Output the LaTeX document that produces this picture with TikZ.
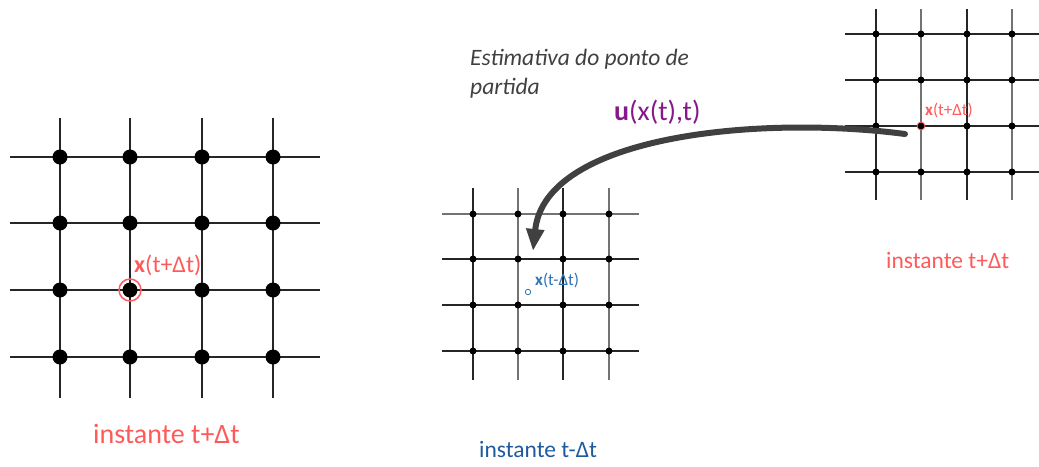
\documentclass[tikz,border=0pt]{standalone}
\usepackage{fontspec}
\setmainfont{Carlito}
\usetikzlibrary{arrows.meta}
\definecolor{lblred}{HTML}{FF5A5A}
\definecolor{lblblue}{HTML}{1F5A9E}
\definecolor{ptblue}{HTML}{2E75B6}
\definecolor{upurple}{HTML}{86198A}
\definecolor{arrgray}{HTML}{404040}
\definecolor{txtgray}{HTML}{404040}
\newcommand{\fsz}[1]{\fontsize{#1}{#1}\selectfont}

\begin{document}
\begin{tikzpicture}[x=1pt, y=-1pt,
    bigdot/.style={circle, fill=black, inner sep=0pt, minimum size=15pt},
    smalldot/.style={circle, fill=black, inner sep=0pt, minimum size=7pt},
    gridline/.style={line width=1.6pt, black!85},
    thinline/.style={line width=1.1pt, black!85},
    greyline/.style={line width=1.2pt, black!55},
    lbl/.style={inner sep=0pt, anchor=base west},
    flow/.style={-{Triangle[length=22pt,width=17pt]}, line width=6pt, arrgray, line cap=round}
]
\useasboundingbox (0,0) rectangle (1039,466);

% left grid (instante t+dt)
\foreach \x in {60,130,202,273} \draw[gridline] (\x,118) -- (\x,398);
\foreach \y in {157,223,290,357} \draw[gridline] (10,\y) -- (320,\y);
\foreach \x [count=\i] in {60,130,202,273}
  \foreach \y [count=\j] in {157,223,290,357}
    \node[bigdot] (L-\i-\j) at (\x,\y) {};
\node[circle, draw=lblred, line width=1.5pt, minimum size=22pt, inner sep=0pt] (Lring) at (L-2-3) {};
\node[lbl, text=lblred, font=\fsz{24}] (Lx) at (134,272) {\textbf{x}(t+Δt)};
\node[lbl, text=lblred, font=\fsz{28}] (Ltime) at (93,443) {instante t+Δt};

% middle grid (instante t-dt)
\foreach \x/\s in {473/thinline,518/greyline,563/thinline,609/greyline} \draw[\s] (\x,188) -- (\x,380);
\foreach \y/\s in {214/greyline,259/thinline,305/thinline,351/thinline} \draw[\s] (442,\y) -- (639,\y);
\foreach \x [count=\i] in {473,518,563,609}
  \foreach \y [count=\j] in {214,259,305,351}
    \node[smalldot] (M-\i-\j) at (\x,\y) {};
\node[circle, draw=ptblue, line width=0.8pt, minimum size=5.5pt, inner sep=0pt] (xdep) at (528,292) {};
\node[lbl, text=ptblue, font=\fsz{17}] (Mx) at (535,285) {\textbf{x}(t-Δt)};
\node[lbl, text=lblblue, font=\fsz{23.5}] (Mtime) at (479,457) {instante t-Δt};

% right grid (instante t+dt)
\foreach \x/\s in {876/thinline,921/greyline,967/thinline,1012/greyline} \draw[\s] (\x,9) -- (\x,200);
\foreach \y in {34,80,126,172} \draw[thinline] (845,\y) -- (1039,\y);
\foreach \x [count=\i] in {876,921,967,1012}
  \foreach \y [count=\j] in {34,80,126,172}
    \node[smalldot] (R-\i-\j) at (\x,\y) {};
\node[circle, draw=lblred, line width=0.8pt, minimum size=8pt, inner sep=0pt] (Rring) at (R-2-3) {};
\node[lbl, text=lblred, font=\fsz{17}] (Rx) at (925,115) {\textbf{x}(t+Δt)};
\node[lbl, text=lblred, font=\fsz{23.5}] (Rtime) at (886,268) {instante t+Δt};

% trajectory back in time
\node[lbl, text=txtgray, font=\fsz{23.5}\itshape] (est1) at (470,65) {Estimativa do ponto de};
\node[lbl, text=txtgray, font=\fsz{23.5}\itshape] (est2) at (470,94) {partida};
\node[lbl, text=upurple, font=\fsz{28}] (ulbl) at (614,120) {\textbf{u}(x(t),t)};
\coordinate (ustart) at (905,134);
\coordinate (uend) at (533,251);
\draw[flow] (ustart) .. controls (760,115) and (545,135) .. (uend);
\end{tikzpicture}
\end{document}
